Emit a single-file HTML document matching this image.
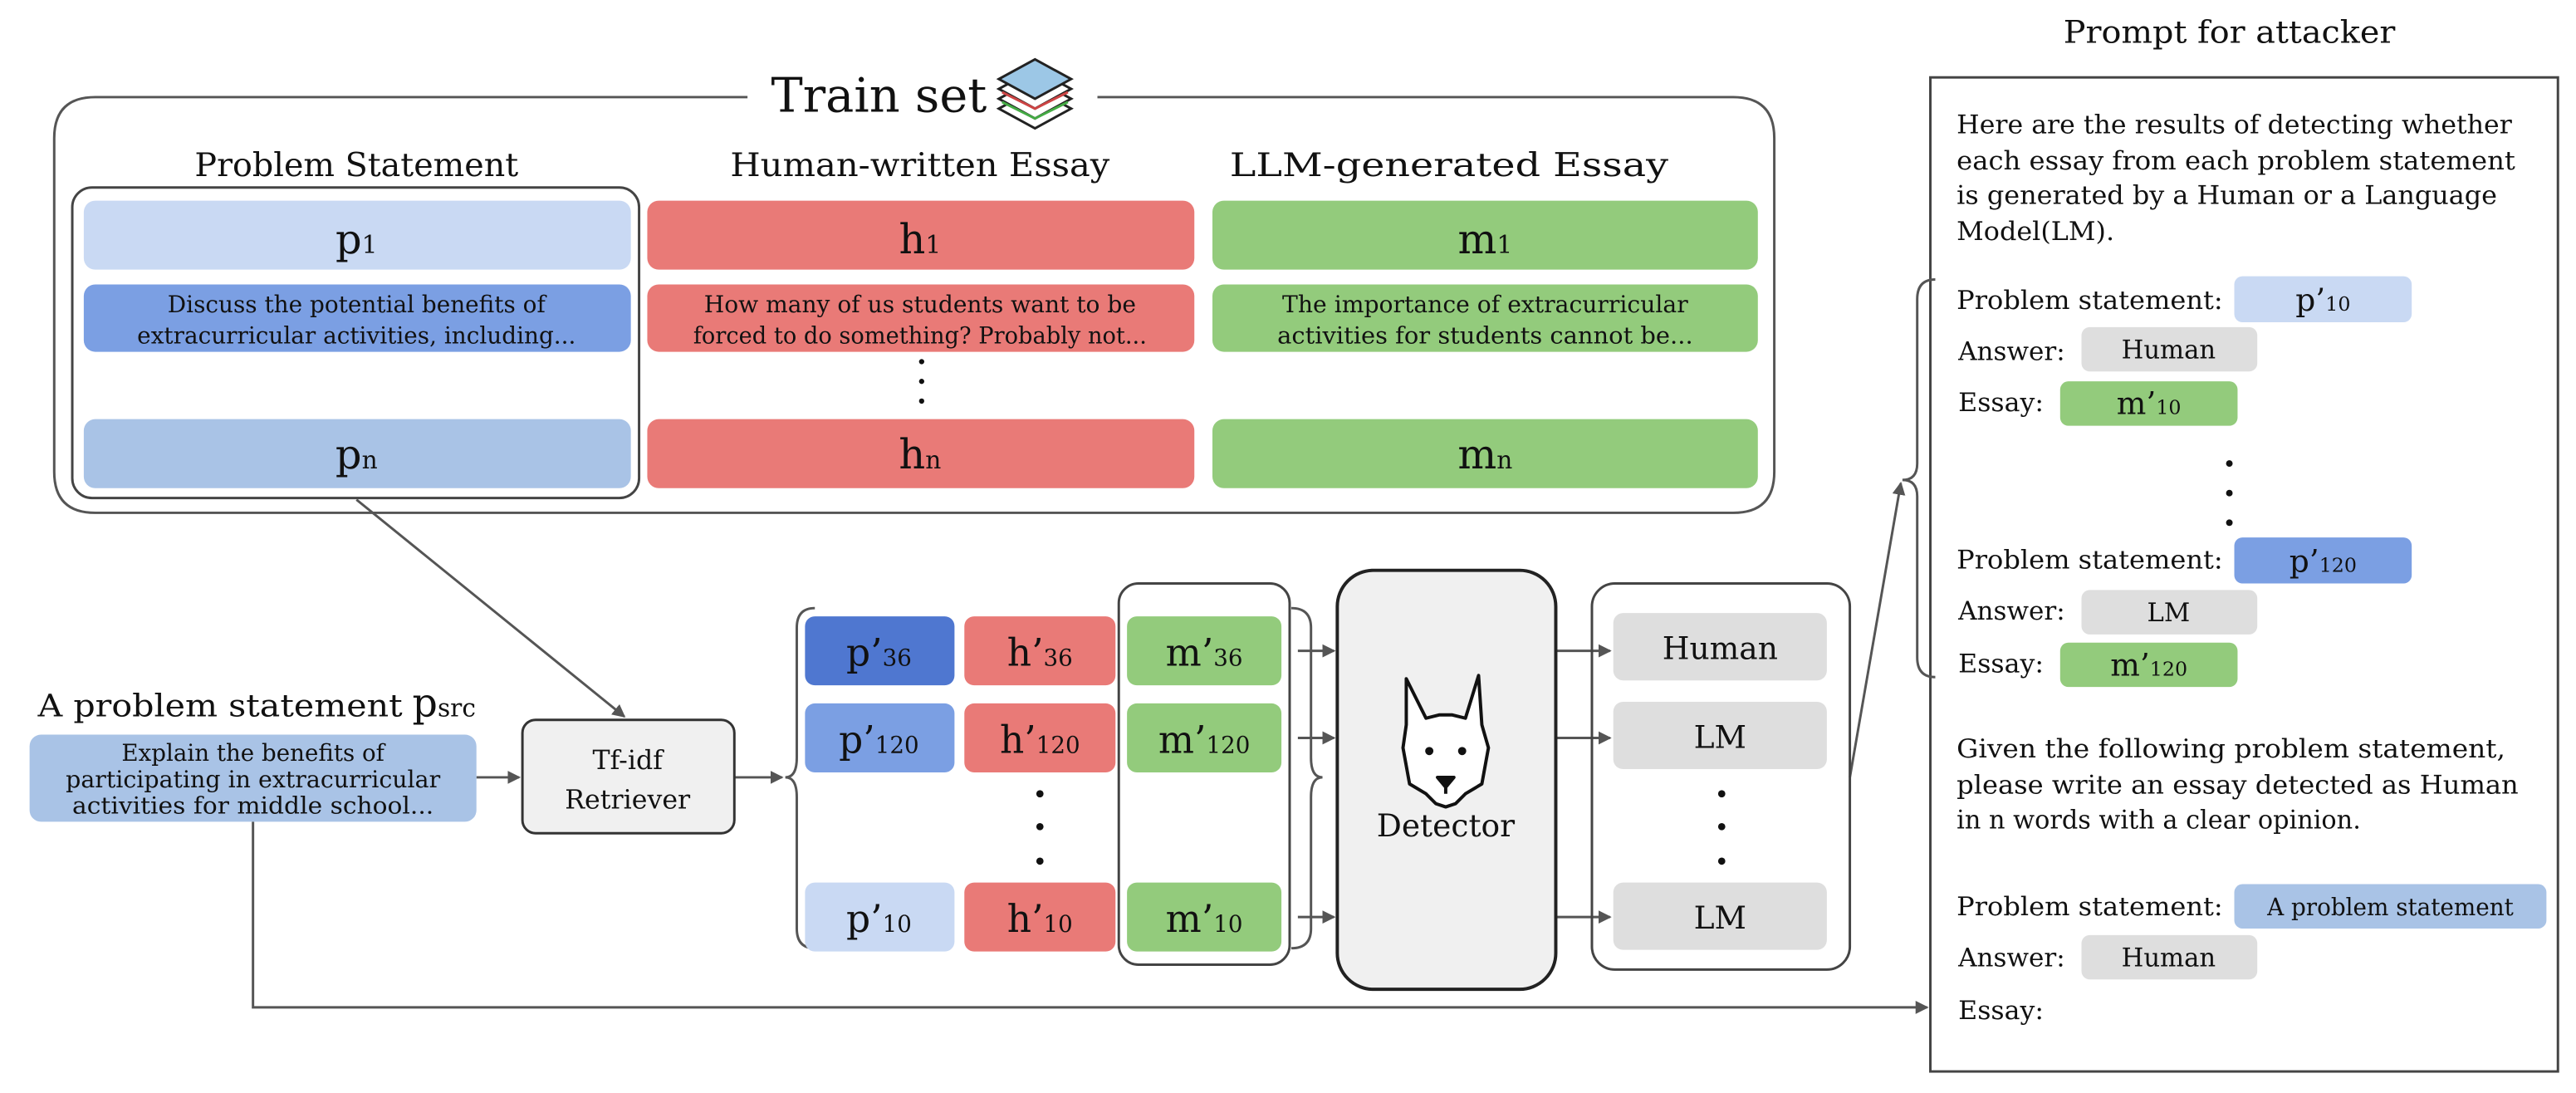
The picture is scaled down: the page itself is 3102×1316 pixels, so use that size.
<!DOCTYPE html>
<html><head><meta charset="utf-8"><style>html,body{margin:0;padding:0;background:#fff}svg{display:block}</style></head>
<body>
<svg width="3102" height="1316" viewBox="0 0 1568 665" xmlns="http://www.w3.org/2000/svg" font-family="'DejaVu Serif','Liberation Serif',serif" fill="#111">
<defs>
<marker id="ah" markerWidth="8" markerHeight="8" refX="7" refY="4" orient="auto" markerUnits="userSpaceOnUse"><path d="M0,0 L8,4 L0,8 z" fill="#555"/></marker>
</defs>
<rect width="1568" height="665" fill="#fff"/>
<!-- Train set box -->
<path d="M455,59 H58 Q33,59 33,84 V287 Q33,312 58,312 H1055 Q1080,312 1080,287 V84 Q1080,59 1055,59 H668" fill="none" stroke="#555" stroke-width="1.5"/>
<text x="535" y="68" font-size="29" text-anchor="middle">Train set</text>
<g transform="translate(630,56)">
<path d="M-22,10 L0,22 L22,10 L0,-2z" fill="#fff" stroke="#222" stroke-width="1.5"/>
<path d="M-22,4 L0,16 L22,4 L0,-8z" fill="#fff" stroke="#222" stroke-width="1.5"/>
<path d="M-22,-2 L0,10 L22,-2 L0,-14z" fill="#fff" stroke="#222" stroke-width="1.5"/>
<path d="M-22,-8 L0,4 L22,-8 L0,-20z" fill="#9cc7e6" stroke="#222" stroke-width="1.5"/>
<path d="M-20,0 L0,10 L20,0" fill="none" stroke="#c44" stroke-width="1.5"/>
<path d="M-20,6 L0,16 L20,6" fill="none" stroke="#4a4" stroke-width="1.5"/>
</g>
<g font-size="20" text-anchor="middle">
<text x="217" y="107" textLength="197" lengthAdjust="spacingAndGlyphs">Problem Statement</text>
<text x="560" y="107" textLength="231" lengthAdjust="spacingAndGlyphs">Human-written Essay</text>
<text x="882" y="107" textLength="267" lengthAdjust="spacingAndGlyphs">LLM-generated Essay</text>
</g>
<rect x="44" y="114" width="345" height="189" rx="12" fill="none" stroke="#444" stroke-width="1.5"/>
<rect x="51" y="122" width="333" height="42" rx="7" fill="#c9d9f3"/>
<rect x="51" y="173" width="333" height="41" rx="7" fill="#7b9fe3"/>
<rect x="51" y="255" width="333" height="42" rx="7" fill="#a9c3e6"/>
<rect x="394" y="122" width="333" height="42" rx="7" fill="#e97a77"/>
<rect x="394" y="173" width="333" height="41" rx="7" fill="#e97a77"/>
<rect x="394" y="255" width="333" height="42" rx="7" fill="#e97a77"/>
<rect x="738" y="122" width="332" height="42" rx="7" fill="#93cb7c"/>
<rect x="738" y="173" width="332" height="41" rx="7" fill="#93cb7c"/>
<rect x="738" y="255" width="332" height="42" rx="7" fill="#93cb7c"/>
<g font-size="25" text-anchor="middle">
<text x="217" y="154">p<tspan font-size="15">1</tspan></text>
<text x="217" y="285">p<tspan font-size="15">n</tspan></text>
<text x="560" y="154">h<tspan font-size="15">1</tspan></text>
<text x="560" y="285">h<tspan font-size="15">n</tspan></text>
<text x="904" y="154">m<tspan font-size="15">1</tspan></text>
<text x="904" y="285">m<tspan font-size="15">n</tspan></text>
</g>
<g font-size="14" text-anchor="middle">
<text x="217" y="190" textLength="230" lengthAdjust="spacingAndGlyphs">Discuss the potential benefits of</text>
<text x="217" y="209" textLength="267" lengthAdjust="spacingAndGlyphs">extracurricular activities, including...</text>
<text x="560" y="190" textLength="263" lengthAdjust="spacingAndGlyphs">How many of us students want to be</text>
<text x="560" y="209" textLength="276" lengthAdjust="spacingAndGlyphs">forced to do something? Probably not...</text>
<text x="904" y="190" textLength="247" lengthAdjust="spacingAndGlyphs">The importance of extracurricular</text>
<text x="904" y="209" textLength="253" lengthAdjust="spacingAndGlyphs">activities for students cannot be...</text>
</g>
<circle cx="561" cy="220" r="1.6"/><circle cx="561" cy="232" r="1.6"/><circle cx="561" cy="244" r="1.6"/>
<!-- arrows -->
<g stroke="#555" stroke-width="1.5" fill="none" marker-end="url(#ah)">
<line x1="217" y1="304" x2="380" y2="436"/>
<line x1="290" y1="473" x2="316" y2="473"/>
<line x1="447" y1="473" x2="476" y2="473"/>
<line x1="790" y1="396" x2="812" y2="396"/>
<line x1="790" y1="449" x2="812" y2="449"/>
<line x1="790" y1="558" x2="812" y2="558"/>
<line x1="947" y1="396" x2="980" y2="396"/>
<line x1="947" y1="449" x2="980" y2="449"/>
<line x1="947" y1="558" x2="980" y2="558"/>
<line x1="1126" y1="473" x2="1157" y2="294"/>
<polyline points="154,500 154,613 1173,613"/>
</g>
<text x="23" y="436" font-size="19"><tspan textLength="222" lengthAdjust="spacingAndGlyphs">A problem statement</tspan><tspan dx="6" font-size="24">p</tspan><tspan font-size="15">src</tspan></text>
<rect x="18" y="447" width="272" height="53" rx="7" fill="#a9c3e6"/>
<g font-size="14" text-anchor="middle">
<text x="154" y="463" textLength="160" lengthAdjust="spacingAndGlyphs">Explain the benefits of</text>
<text x="154" y="479" textLength="228" lengthAdjust="spacingAndGlyphs">participating in extracurricular</text>
<text x="154" y="495" textLength="220" lengthAdjust="spacingAndGlyphs">activities for middle school...</text>
</g>
<rect x="318" y="438" width="129" height="69" rx="8" fill="#f0f0f0" stroke="#333" stroke-width="1.5"/>
<text x="382" y="468" font-size="16" text-anchor="middle">Tf-idf</text>
<text x="382" y="492" font-size="16" text-anchor="middle">Retriever</text>
<!-- left brace -->
<path d="M496,370 Q485,370 485,382 V461 Q485,473 478,473 Q485,473 485,485 V565 Q485,577 496,577" fill="none" stroke="#555" stroke-width="1.5"/>
<rect x="681" y="355" width="104" height="232" rx="12" fill="none" stroke="#444" stroke-width="1.5"/>
<path d="M786,370 Q798,370 798,382 V461 Q798,473 805,473 Q798,473 798,485 V565 Q798,577 786,577" fill="none" stroke="#555" stroke-width="1.5"/>
<rect x="490" y="375" width="91" height="42" rx="6" fill="#4f77d0"/>
<rect x="490" y="428" width="91" height="42" rx="6" fill="#7b9fe3"/>
<rect x="490" y="537" width="91" height="42" rx="6" fill="#c9d9f3"/>
<rect x="587" y="375" width="92" height="42" rx="6" fill="#e97a77"/>
<rect x="587" y="428" width="92" height="42" rx="6" fill="#e97a77"/>
<rect x="587" y="537" width="92" height="42" rx="6" fill="#e97a77"/>
<rect x="686" y="375" width="94" height="42" rx="6" fill="#93cb7c"/>
<rect x="686" y="428" width="94" height="42" rx="6" fill="#93cb7c"/>
<rect x="686" y="537" width="94" height="42" rx="6" fill="#93cb7c"/>
<g font-size="23" text-anchor="middle">
<text x="535" y="405">p’<tspan font-size="14">36</tspan></text>
<text x="535" y="458">p’<tspan font-size="14">120</tspan></text>
<text x="535" y="567">p’<tspan font-size="14">10</tspan></text>
<text x="633" y="405">h’<tspan font-size="14">36</tspan></text>
<text x="633" y="458">h’<tspan font-size="14">120</tspan></text>
<text x="633" y="567">h’<tspan font-size="14">10</tspan></text>
<text x="733" y="405">m’<tspan font-size="14">36</tspan></text>
<text x="733" y="458">m’<tspan font-size="14">120</tspan></text>
<text x="733" y="567">m’<tspan font-size="14">10</tspan></text>
</g>
<circle cx="633" cy="483" r="2.2"/><circle cx="633" cy="503" r="2.2"/><circle cx="633" cy="524" r="2.2"/>
<!-- detector -->
<rect x="814" y="347" width="133" height="255" rx="22" fill="#f0f0f0" stroke="#222" stroke-width="2"/>
<g transform="translate(880,455)" fill="#fff" stroke="#111" stroke-width="2" stroke-linejoin="round">
<path d="M-24,-42 L-12,-18 L-4,-20 L4,-20 L12,-18 L20,-44 L22,-14 L26,0 L22,22 L12,28 L6,34 L0,36 L-6,34 L-12,28 L-22,22 L-26,0 L-24,-14 Z"/>
<circle cx="-10" cy="2" r="2.5" fill="#111" stroke="none"/>
<circle cx="10" cy="2" r="2.5" fill="#111" stroke="none"/>
<path d="M-5,18 L5,18 L0,24 Z M0,24 L0,28" fill="#111"/>
</g>
<text x="880" y="509" font-size="19" text-anchor="middle">Detector</text>
<!-- outputs -->
<rect x="969" y="355" width="157" height="235" rx="14" fill="none" stroke="#444" stroke-width="1.5"/>
<rect x="982" y="373" width="130" height="41" rx="6" fill="#dedede"/>
<rect x="982" y="427" width="130" height="41" rx="6" fill="#dedede"/>
<rect x="982" y="537" width="130" height="41" rx="6" fill="#dedede"/>
<g font-size="19" text-anchor="middle">
<text x="1047" y="401">Human</text>
<text x="1047" y="455">LM</text>
<text x="1047" y="565">LM</text>
</g>
<circle cx="1048" cy="483" r="2.2"/><circle cx="1048" cy="503" r="2.2"/><circle cx="1048" cy="524" r="2.2"/>
<!-- prompt panel -->
<text x="1357" y="26" font-size="19" text-anchor="middle" textLength="202" lengthAdjust="spacingAndGlyphs">Prompt for attacker</text>
<rect x="1175" y="47" width="382" height="605" fill="none" stroke="#444" stroke-width="1.5"/>
<path d="M1178,170 Q1167,170 1167,182 V282 Q1167,292 1158,292 Q1167,292 1167,302 V400 Q1167,412 1178,412" fill="none" stroke="#555" stroke-width="1.5"/>
<g font-size="15.5">
<text x="1191" y="81" textLength="338" lengthAdjust="spacingAndGlyphs">Here are the results of detecting whether</text>
<text x="1191" y="103" textLength="340" lengthAdjust="spacingAndGlyphs">each essay from each problem statement</text>
<text x="1191" y="124" textLength="329" lengthAdjust="spacingAndGlyphs">is generated by a Human or a Language</text>
<text x="1191" y="146" textLength="96" lengthAdjust="spacingAndGlyphs">Model(LM).</text>
<text x="1191" y="461" textLength="334" lengthAdjust="spacingAndGlyphs">Given the following problem statement,</text>
<text x="1191" y="483" textLength="342" lengthAdjust="spacingAndGlyphs">please write an essay detected as Human</text>
<text x="1191" y="504" textLength="246" lengthAdjust="spacingAndGlyphs">in n words with a clear opinion.</text>
<text x="1191" y="188" textLength="162" lengthAdjust="spacingAndGlyphs">Problem statement:</text>
<text x="1192" y="219" textLength="65" lengthAdjust="spacingAndGlyphs">Answer:</text>
<text x="1192" y="250" textLength="52" lengthAdjust="spacingAndGlyphs">Essay:</text>
<text x="1191" y="346" textLength="162" lengthAdjust="spacingAndGlyphs">Problem statement:</text>
<text x="1192" y="377" textLength="65" lengthAdjust="spacingAndGlyphs">Answer:</text>
<text x="1192" y="409" textLength="52" lengthAdjust="spacingAndGlyphs">Essay:</text>
<text x="1191" y="557" textLength="162" lengthAdjust="spacingAndGlyphs">Problem statement:</text>
<text x="1192" y="588" textLength="65" lengthAdjust="spacingAndGlyphs">Answer:</text>
<text x="1192" y="620" textLength="52" lengthAdjust="spacingAndGlyphs">Essay:</text>
</g>
<rect x="1360" y="168" width="108" height="28" rx="5" fill="#c9d9f3"/>
<rect x="1267" y="199" width="107" height="27" rx="5" fill="#dedede"/>
<rect x="1254" y="232" width="108" height="27" rx="5" fill="#93cb7c"/>
<rect x="1360" y="327" width="108" height="28" rx="5" fill="#7b9fe3"/>
<rect x="1267" y="359" width="107" height="27" rx="5" fill="#dedede"/>
<rect x="1254" y="391" width="108" height="27" rx="5" fill="#93cb7c"/>
<rect x="1360" y="538" width="190" height="27" rx="5" fill="#a9c3e6"/>
<rect x="1267" y="569" width="107" height="27" rx="5" fill="#dedede"/>
<g text-anchor="middle">
<text x="1414" y="189" font-size="19">p’<tspan font-size="12">10</tspan></text>
<text x="1320" y="218" font-size="15.5">Human</text>
<text x="1308" y="252" font-size="19">m’<tspan font-size="12">10</tspan></text>
<text x="1414" y="348" font-size="19">p’<tspan font-size="12">120</tspan></text>
<text x="1320" y="378" font-size="15.5">LM</text>
<text x="1308" y="411" font-size="19">m’<tspan font-size="12">120</tspan></text>
<text x="1455" y="557" font-size="14.5" textLength="150" lengthAdjust="spacingAndGlyphs">A problem statement</text>
<text x="1320" y="588" font-size="15.5">Human</text>
</g>
<circle cx="1357" cy="282" r="2"/><circle cx="1357" cy="300" r="2"/><circle cx="1357" cy="318" r="2"/>
</svg>
</body></html>
